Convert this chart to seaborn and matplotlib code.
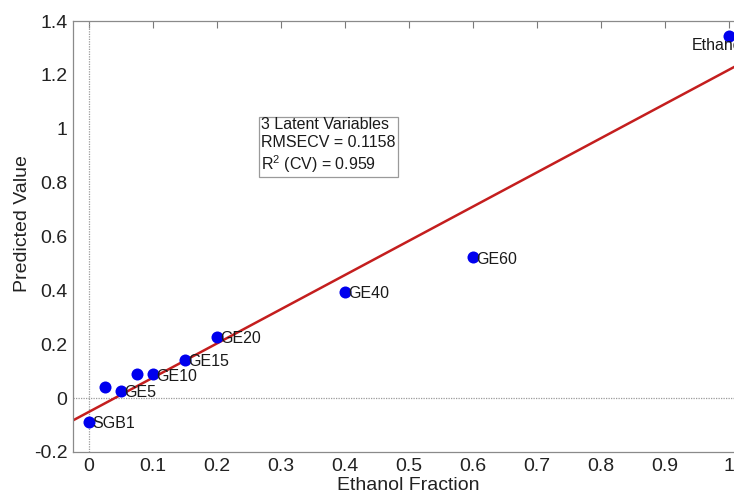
import numpy as np
import pandas as pd
import matplotlib
matplotlib.use("Agg")
import matplotlib.pyplot as plt
import seaborn as sns
from matplotlib.ticker import FuncFormatter

# Measured ethanol fraction vs. cross-validated PLS prediction
ethanol_fraction = [0.0, 0.025, 0.05, 0.075, 0.10, 0.15, 0.20, 0.40, 0.60, 1.00]
predicted_value = [-0.087, 0.043, 0.027, 0.089, 0.089, 0.142, 0.228, 0.394, 0.523, 1.345]
sample_labels = ["SGB1", "", "GE5", "", "GE10", "GE15", "GE20", "GE40", "GE60", "Ethanol"]

x_ticks = [0, 0.1, 0.2, 0.3, 0.4, 0.5, 0.6, 0.7, 0.8, 0.9, 1.0]
y_ticks = [-0.2, 0, 0.2, 0.4, 0.6, 0.8, 1.0, 1.2, 1.4]

stats_lines = ["3 Latent Variables", "RMSECV = 0.1158", r"R$^2$ (CV) = 0.959"]

df = pd.DataFrame({"fraction": ethanol_fraction, "predicted": predicted_value,
                   "label": sample_labels})

sns.set_theme(style="white")
plt.rcParams["font.family"] = ["Liberation Sans", "DejaVu Sans"]
plt.rcParams["mathtext.fontset"] = "custom"
plt.rcParams["mathtext.rm"] = "Liberation Sans"

fig = plt.figure(figsize=(7.34, 4.96), dpi=100)
W, H = 734, 496
ax = fig.add_axes([73 / W, 44 / H, 688 / W, 431 / H])

ax.set_xlim(-0.025, 1.05)
ax.set_ylim(-0.2, 1.4)

# dotted reference lines through the origin
ax.axhline(0, color="#9a9a9a", lw=0.9, ls=(0, (1, 1)), zorder=1)
ax.axvline(0, color="#9a9a9a", lw=0.9, ls=(0, (1, 1)), zorder=1)

# least-squares fit line across the full axis width
sns.regplot(data=df, x="fraction", y="predicted", ax=ax, ci=None, scatter=False,
            truncate=False, line_kws=dict(color="#c41e1e", lw=1.8, zorder=2))

sns.scatterplot(data=df, x="fraction", y="predicted", ax=ax, color="#0000ee",
                s=75, edgecolor="#0000ee", linewidth=0, zorder=3, legend=False)

for xi, yi, lab in zip(ethanol_fraction, predicted_value, sample_labels):
    if not lab:
        continue
    if lab == "Ethanol":
        ax.annotate(lab, (xi, yi), xytext=(-37, -10), textcoords="offset pixels",
                    ha="left", va="center", fontsize=11.5, color="#1a1a1a")
    else:
        ax.annotate(lab, (xi, yi), xytext=(3, -2), textcoords="offset pixels",
                    ha="left", va="center", fontsize=11.5, color="#1a1a1a")

ax.text(0.269, 1.043, "\n".join(stats_lines), fontsize=11.5, color="#1a1a1a",
        ha="left", va="top", linespacing=1.2,
        bbox=dict(boxstyle="square,pad=0.15", facecolor="white",
                  edgecolor="#9a9a9a", linewidth=0.9))

ax.set_xticks(x_ticks)
ax.set_yticks(y_ticks)
ax.xaxis.set_major_formatter(FuncFormatter(lambda v, p: f"{v:g}"))
ax.yaxis.set_major_formatter(FuncFormatter(lambda v, p: f"{v:g}"))
ax.tick_params(axis="both", direction="in", length=5, width=0.8, color="#7a7a7a",
               labelsize=14, labelcolor="#222222", pad=4, top=True, right=True)

for side in ["left", "bottom", "top", "right"]:
    ax.spines[side].set_color("#8a8a8a")
    ax.spines[side].set_linewidth(0.9)

ax.set_xlabel("Ethanol Fraction", fontsize=14, color="#222222")
ax.set_ylabel("Predicted Value", fontsize=14, color="#222222")
ax.xaxis.set_label_coords(0.487, -0.058)
ax.yaxis.set_label_coords(-0.061, 0.53)

fig.savefig("out.png", dpi=100)
